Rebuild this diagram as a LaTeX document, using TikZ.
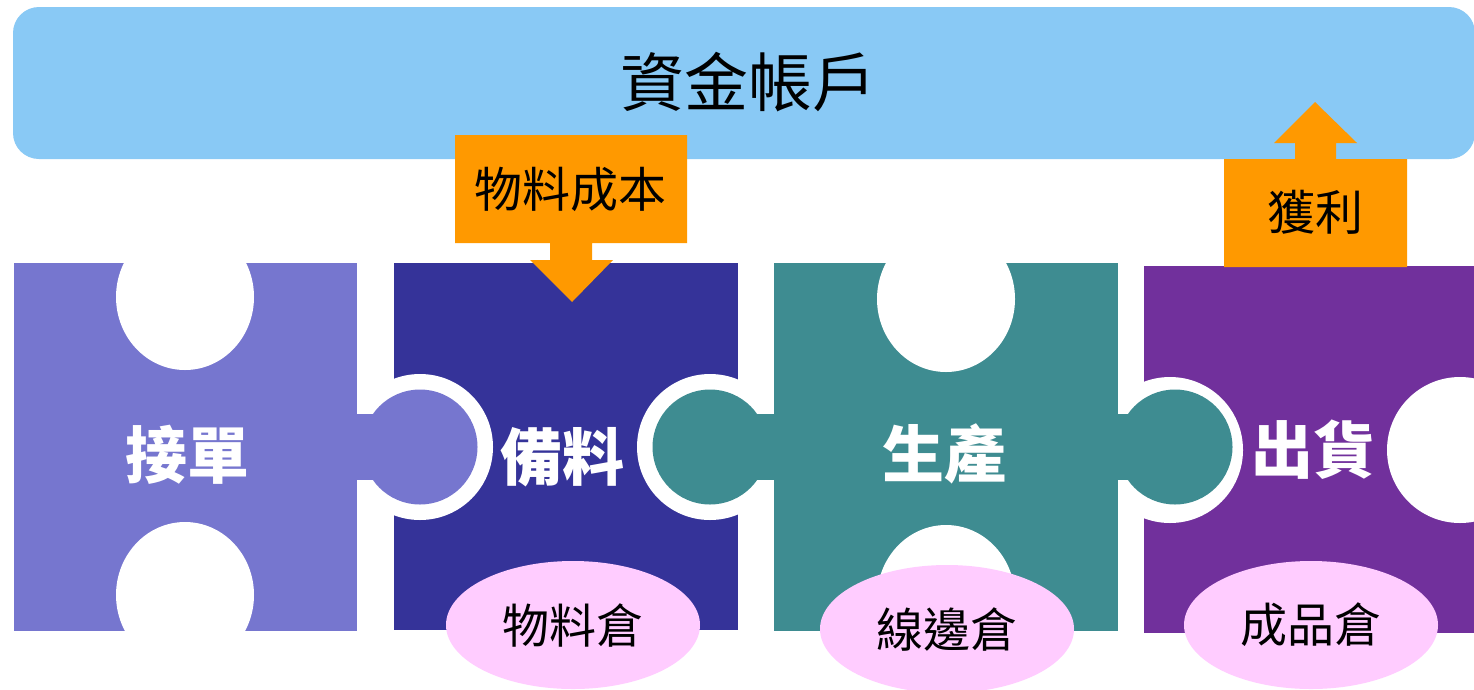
\documentclass[tikz,border=0pt]{standalone}
\usepackage{fontspec}
\newfontfamily\cjk{Noto Sans CJK TC}
\usetikzlibrary{shapes.geometric}
\definecolor{barblue}{HTML}{89C9F5}
\definecolor{pA}{HTML}{7676CF}
\definecolor{pB}{HTML}{353399}
\definecolor{pC}{HTML}{3E8C91}
\definecolor{pD}{HTML}{71309C}
\definecolor{orng}{HTML}{FF9900}
\definecolor{pinkw}{HTML}{FFCCFF}
\tikzset{
  piecelabel/.style={text=white,font=\cjk\bfseries\fontsize{62}{62}\selectfont,inner sep=0pt},
  storage/.style={ellipse,fill=pinkw,minimum width=254pt,minimum height=128pt,inner sep=0pt,
     font=\cjk\fontsize{47}{47}\selectfont,text=black},
  calltext/.style={font=\cjk\fontsize{48}{48}\selectfont,text=black,inner sep=0pt},
  hole/.style={fill=white},
}
\begin{document}
\begin{tikzpicture}[x=1pt,y=-1pt]
\useasboundingbox (0,0) rectangle (1474,689);
\fill[white] (0,0) rectangle (1474,689);
% top bar
\fill[barblue,rounded corners=26pt] (13,7) rectangle (1475,159);
\node[font=\cjk\fontsize{64}{64}\selectfont,inner sep=0pt] (acct) at (748,82) {資金帳戶};
% piece 2 and 4 bodies
\fill[pB] (394,263) rectangle (738,630);
\fill[pD] (1144,266) rectangle (1480,633);
% sockets
\fill[hole] (420,447) circle[radius=73pt];
\fill[hole] (710,447) circle[radius=73pt];
\fill[hole] (1170,450) circle[radius=73pt];
\fill[hole] (1460,450) circle[radius=73pt];
% piece 1 and 3 bodies
\fill[pA] (14,263) rectangle (357,631);
\fill[pC] (774,263) rectangle (1118,631);
% top / bottom holes
\fill[hole] (185,297) ellipse[x radius=69pt,y radius=73pt];
\fill[hole] (185,595) ellipse[x radius=69pt,y radius=73pt];
\fill[hole] (946,299) ellipse[x radius=69pt,y radius=73pt];
\fill[hole] (946,598) ellipse[x radius=69pt,y radius=73pt];
% knobs
\fill[pA] (356,414) rectangle (395,480);
\fill[pA] (420,447) circle[radius=57.5pt];
\fill[pC] (700,414) rectangle (775,480);
\fill[pC] (710,447) circle[radius=57.5pt];
\fill[pC] (1117,414) rectangle (1175,480);
\fill[pC] (1175,447) circle[radius=57.5pt];
% labels
\node[piecelabel] (jd) at (187,455) {接單};
\node[piecelabel] (bl) at (562,457) {備料};
\node[piecelabel] (sc) at (944,454) {生產};
\node[piecelabel] (ch) at (1313,450) {出貨};
% storage ellipses
\node[storage] (wlc) at (573,625) {物料倉};
\node[storage] (xbc) at (947,629) {線邊倉};
\node[storage] (cpc) at (1311,625) {成品倉};
% callouts
\fill[orng] (455,135) -- (687,135) -- (687,243) -- (592,243) -- (592,260) -- (613,260)
  -- (572,302) -- (530,260) -- (550,260) -- (550,243) -- (455,243) -- cycle;
\node[calltext] (cost) at (570,189) {物料成本};
\fill[orng] (1224,267) -- (1224,159) -- (1295,159) -- (1295,143) -- (1274,143) -- (1315,102)
  -- (1357,143) -- (1336,143) -- (1336,159) -- (1407,159) -- (1407,267) -- cycle;
\node[calltext] (prof) at (1315,212) {獲利};
\end{tikzpicture}
\end{document}
